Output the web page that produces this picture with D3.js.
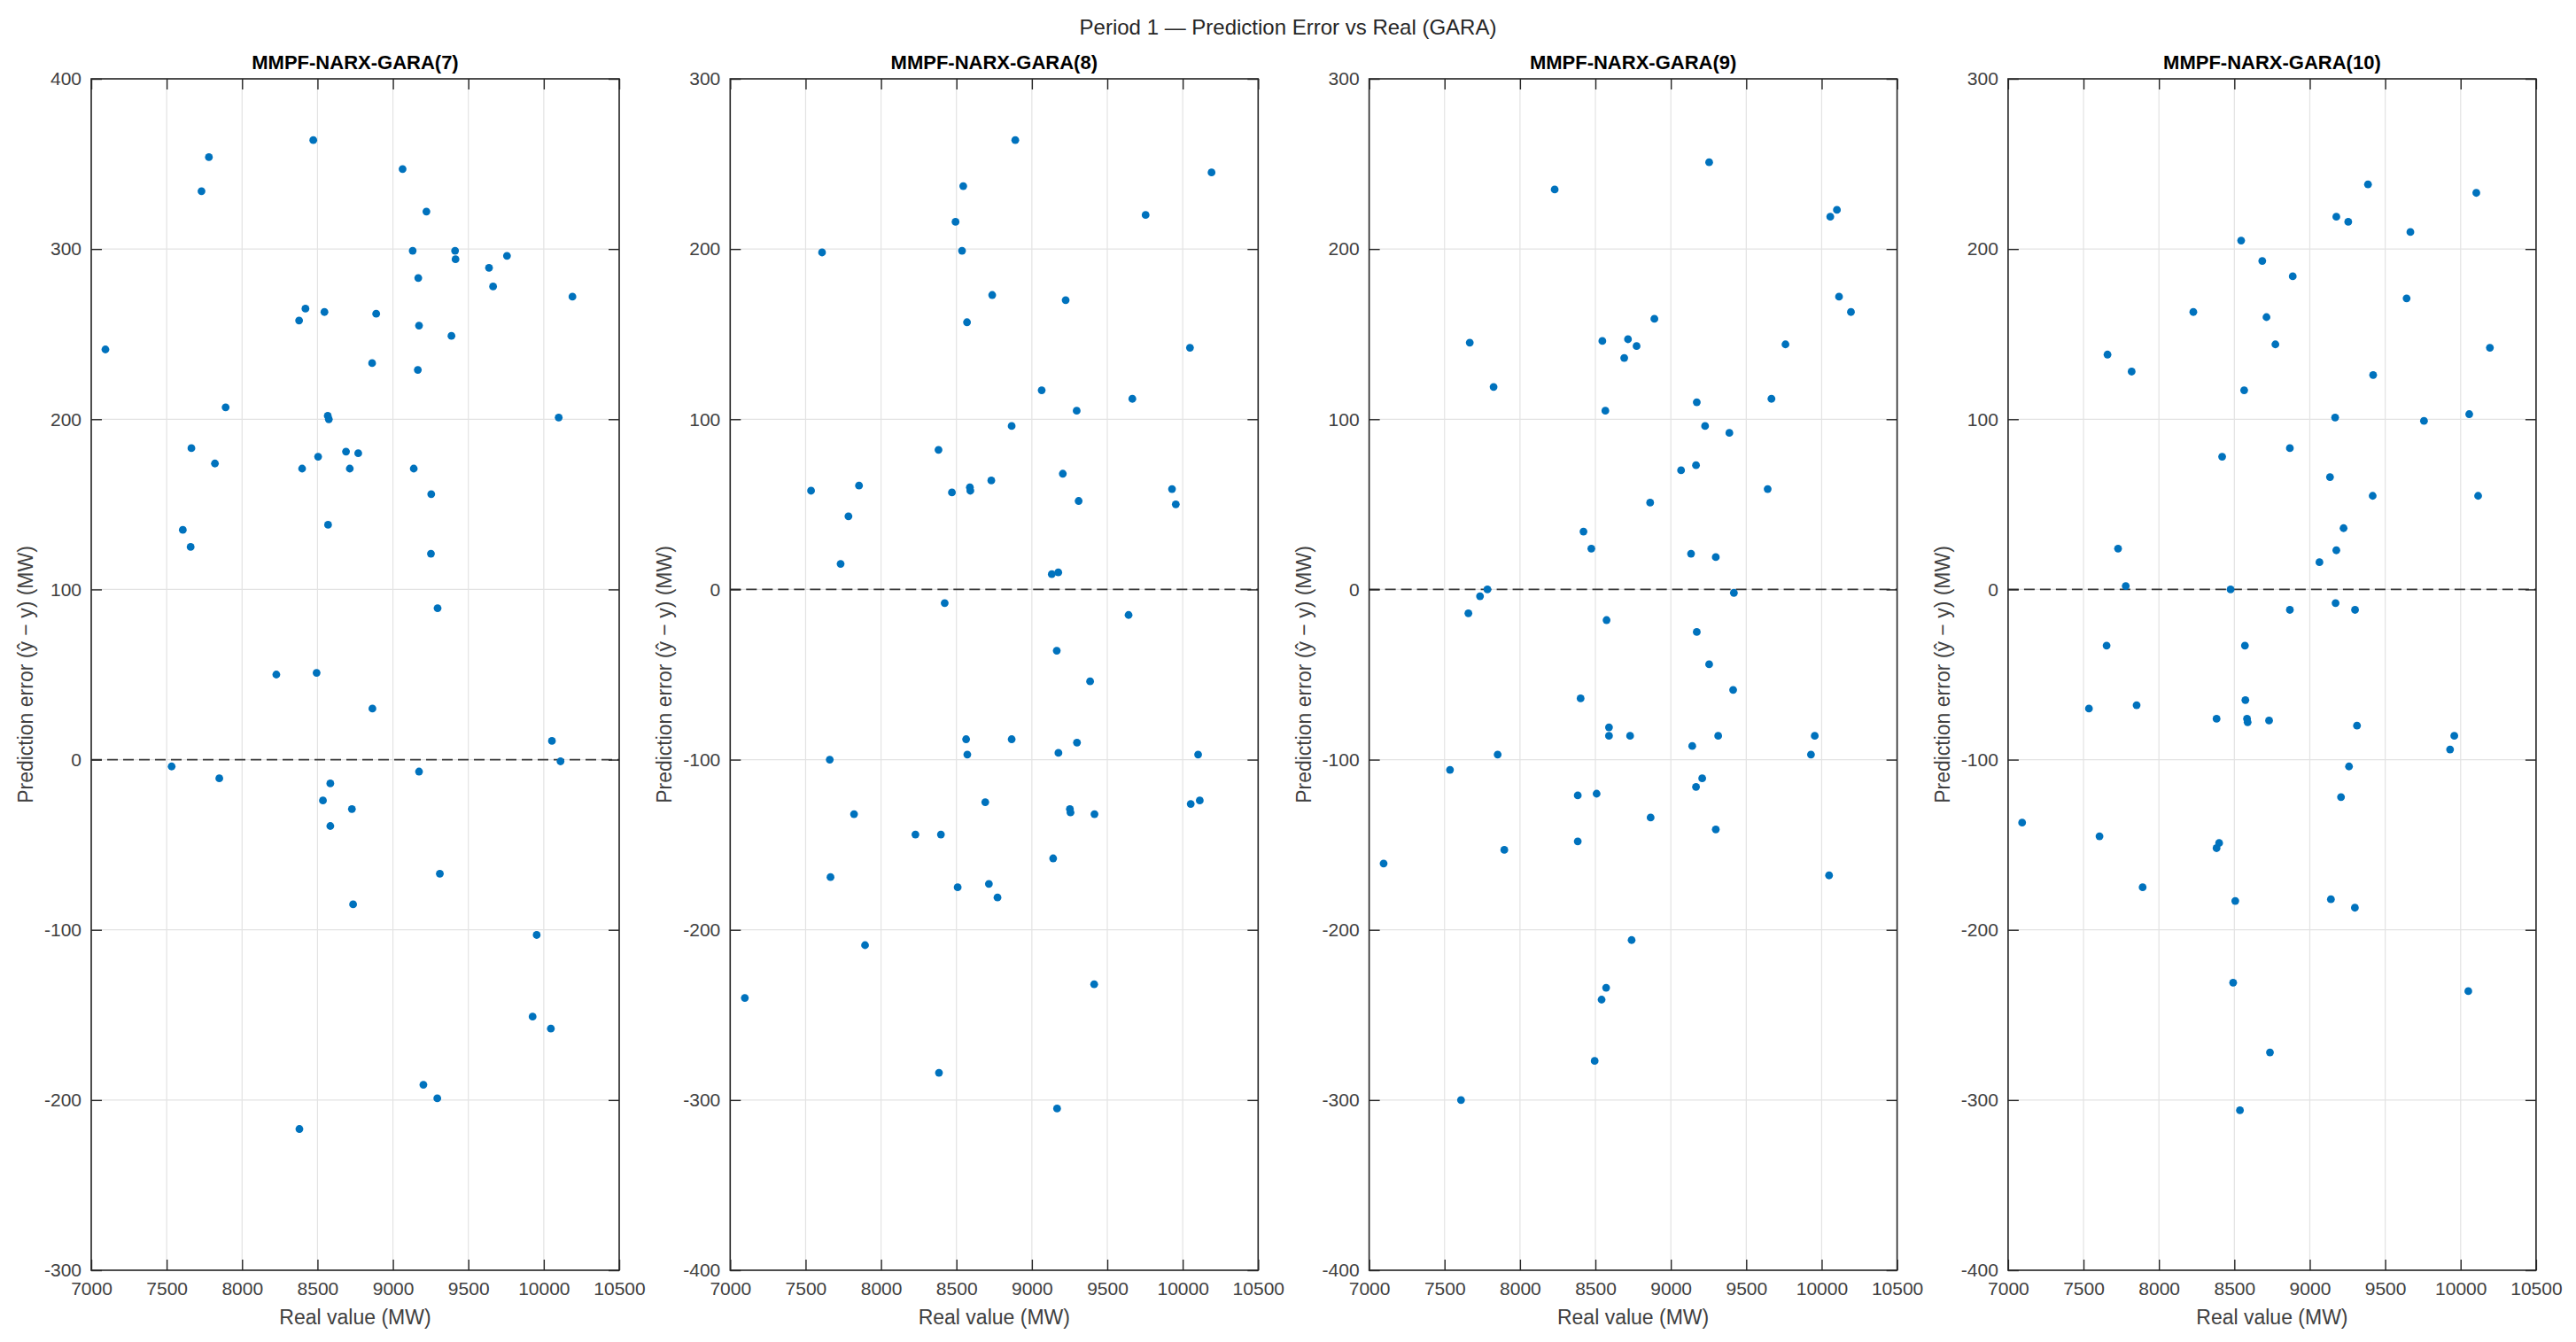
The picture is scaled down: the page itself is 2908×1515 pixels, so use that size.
<!DOCTYPE html>
<html>
<head>
<meta charset="utf-8">
<script src="https://cdn.jsdelivr.net/npm/d3@7"></script>
<style>
  html, body { margin: 0; padding: 0; background: #fff; }
  svg { display: block; }
  text { font-family: "Liberation Sans", Arial, Helvetica, sans-serif; }
</style>
</head>
<body>
<svg id="chart" width="2908" height="1515"></svg>
<script>
// ---------------- DATA ----------------
const suptitle = "Period 1 — Prediction Error vs Real (GARA)";
const panelTitles = ["MMPF-NARX-GARA(7)", "MMPF-NARX-GARA(8)", "MMPF-NARX-GARA(9)", "MMPF-NARX-GARA(10)"];
const xLabel = "Real value (MW)";
const yLabel = "Prediction error (ŷ − y) (MW)";
const xTicks = [7000, 7500, 8000, 8500, 9000, 9500, 10000, 10500];
const yTicks7 = [-300, -200, -100, 0, 100, 200, 300, 400];
const yTicksOther = [-400, -300, -200, -100, 0, 100, 200, 300];

const real7 = [7094,7780,7731,8472,9064,9222,9131,9412,9415,9756,9637,9168,9664,10190,8420,8546,8378,8889,9173,9388,8862,9165,7891,8568,8575,10099,7664,7820,8504,8689,8770,8398,8714,9138,9254,7607,7659,8570,9252,9296,8227,8494,8864,10054,10111,7533,7849,9173,8585,8536,8728,8585,9311,8736,9953,9926,10047,9202,9294,8380];
const err7 = [241,354,334,364,347,322,299,299,294,296,289,283,278,272,265,263,258,262,255,249,233,229,207,202,200,201,183,174,178,181,180,171,171,171,156,135,125,138,121,89,50,51,30,11,-1,-4,-11,-7,-14,-24,-29,-39,-67,-85,-103,-151,-158,-191,-199,-217];

const real8 = [8890,8545,10191,9754,8494,7609,8537,8737,9224,8570,10048,9065,9666,9297,8866,8381,7536,7854,8470,8589,8592,8731,9205,9310,9929,9954,7784,7732,9132,9175,8422,9641,9165,9386,8564,8866,9299,9176,8572,10102,7660,8691,9252,9256,9415,10053,10113,7821,8228,8397,9141,7665,8508,8715,8772,7894,9413,7097,8384,9167];
const err8 = [264,237,245,220,216,198,199,173,170,157,142,117,112,105,96,82,58,61,57,60,58,64,68,52,59,50,43,15,9,10,-8,-15,-36,-54,-88,-88,-90,-96,-97,-97,-100,-125,-129,-131,-132,-126,-124,-132,-144,-144,-158,-169,-175,-173,-181,-209,-232,-240,-284,-305];

const real9 = [9254,8230,10101,10057,10115,10194,8891,7667,8546,8716,8773,8691,9760,7825,9172,9667,8566,9227,9388,9068,9167,9642,8863,8421,8473,9134,9298,7784,7735,9418,7658,8574,9172,9254,9413,8402,8590,8590,8730,9314,9954,9142,9929,7852,7536,9208,9167,8383,8508,8866,9298,8383,7896,7096,10049,8740,8571,8541,8495,7609];
const err9 = [251,235,223,219,172,163,159,145,146,147,143,136,144,119,110,112,105,96,92,70,73,59,51,34,24,21,19,0,-4,-2,-14,-18,-25,-44,-59,-64,-81,-86,-86,-86,-86,-92,-97,-97,-106,-111,-116,-121,-120,-134,-141,-148,-153,-161,-168,-206,-234,-241,-277,-300];

const real10 = [9386,10104,9176,9255,9667,8545,8685,8887,9642,8228,8713,8772,10194,7659,7819,9420,8565,10057,9168,9757,8868,8419,9134,9417,10116,9224,7729,9176,9064,7780,8475,8868,9171,9300,7653,8570,8573,7536,7852,8382,8584,8588,8730,9313,9958,9930,9260,9207,7093,7606,8399,8382,7892,8506,9140,9299,8492,10051,8736,8537];
const err10 = [238,233,219,216,210,205,193,184,171,163,160,144,142,138,128,126,117,103,101,99,83,78,66,55,55,36,24,23,16,2,0,-12,-8,-12,-33,-33,-65,-70,-68,-76,-76,-78,-77,-80,-86,-94,-104,-122,-137,-145,-149,-152,-175,-183,-182,-187,-231,-236,-272,-306];

const panels = [
  { title: panelTitles[0], real: real7,  err: err7,  yTicks: yTicks7 },
  { title: panelTitles[1], real: real8,  err: err8,  yTicks: yTicksOther },
  { title: panelTitles[2], real: real9,  err: err9,  yTicks: yTicksOther },
  { title: panelTitles[3], real: real10, err: err10, yTicks: yTicksOther }
];

// ---------------- LAYOUT / STYLE ----------------
const W = 2908, H = 1515;
const plotTop = 89, plotBottom = 1434;
const plotW = 596, panelStep = 721.3, firstLeft = 103;
const axisColor = "#262626", tickTextColor = "#404040", gridColor = "#e3e3e3";
const dotColor = "#0072BD";

const svg = d3.select("#chart");
svg.append("rect").attr("width", W).attr("height", H).attr("fill", "#fff");

svg.append("text")
  .attr("x", W / 2).attr("y", 39)
  .attr("text-anchor", "middle")
  .attr("font-size", 24).attr("fill", "#262626")
  .text(suptitle);

const fmt = d => String(d);

panels.forEach((p, i) => {
  const left = firstLeft + i * panelStep;
  const x = d3.scaleLinear().domain([7000, 10500]).range([left, left + plotW]);
  const y = d3.scaleLinear().domain([p.yTicks[0], p.yTicks[p.yTicks.length - 1]]).range([plotBottom, plotTop]);
  const g = svg.append("g");

  // grid
  g.append("g").selectAll("line").data(xTicks).join("line")
    .attr("x1", d => x(d)).attr("x2", d => x(d))
    .attr("y1", plotTop).attr("y2", plotBottom)
    .attr("stroke", gridColor).attr("stroke-width", 1.2);
  g.append("g").selectAll("line").data(p.yTicks).join("line")
    .attr("x1", left).attr("x2", left + plotW)
    .attr("y1", d => y(d)).attr("y2", d => y(d))
    .attr("stroke", gridColor).attr("stroke-width", 1.2);

  // zero dashed line
  g.append("line")
    .attr("x1", left).attr("x2", left + plotW)
    .attr("y1", y(0)).attr("y2", y(0))
    .attr("stroke", "#3a3a3a").attr("stroke-width", 1.8)
    .attr("stroke-dasharray", "12,6");

  // axes (inward ticks, MATLAB style, box on)
  const bottom = g.append("g").attr("transform", `translate(0,${plotBottom})`)
    .call(d3.axisBottom(x).tickValues(xTicks).tickFormat(fmt).tickSizeInner(-12).tickSizeOuter(0).tickPadding(13));
  const leftAx = g.append("g").attr("transform", `translate(${left},0)`)
    .call(d3.axisLeft(y).tickValues(p.yTicks).tickFormat(fmt).tickSizeInner(-12).tickSizeOuter(0).tickPadding(11));
  const topAx = g.append("g").attr("transform", `translate(0,${plotTop})`)
    .call(d3.axisTop(x).tickValues(xTicks).tickFormat("").tickSizeInner(-12).tickSizeOuter(0));
  const rightAx = g.append("g").attr("transform", `translate(${left + plotW},0)`)
    .call(d3.axisRight(y).tickValues(p.yTicks).tickFormat("").tickSizeInner(-12).tickSizeOuter(0));

  [bottom, leftAx, topAx, rightAx].forEach(a => {
    a.select(".domain").remove();
    a.selectAll(".tick line").attr("stroke", axisColor).attr("stroke-width", 1.4);
    a.selectAll(".tick text")
      .attr("font-size", 21).attr("fill", tickTextColor)
      .attr("font-family", '"Liberation Sans", Arial, sans-serif');
  });

  // box
  g.append("rect")
    .attr("x", left).attr("y", plotTop)
    .attr("width", plotW).attr("height", plotBottom - plotTop)
    .attr("fill", "none").attr("stroke", axisColor).attr("stroke-width", 1.6);

  // points
  g.append("g").selectAll("circle").data(p.real.map((r, k) => [r, p.err[k]])).join("circle")
    .attr("cx", d => x(d[0])).attr("cy", d => y(d[1]))
    .attr("r", 4.4).attr("fill", dotColor);

  // titles & labels
  g.append("text")
    .attr("x", left + plotW / 2).attr("y", 78)
    .attr("text-anchor", "middle").attr("font-size", 22).attr("font-weight", "bold")
    .attr("fill", "#000").text(p.title);

  g.append("text")
    .attr("x", left + plotW / 2).attr("y", 1495)
    .attr("text-anchor", "middle").attr("font-size", 23).attr("fill", tickTextColor)
    .text(xLabel);

  g.append("text")
    .attr("transform", `translate(${left - 66},${(plotTop + plotBottom) / 2}) rotate(-90)`)
    .attr("text-anchor", "middle").attr("font-size", 23).attr("fill", tickTextColor)
    .text(yLabel);
});
</script>
</body>
</html>
